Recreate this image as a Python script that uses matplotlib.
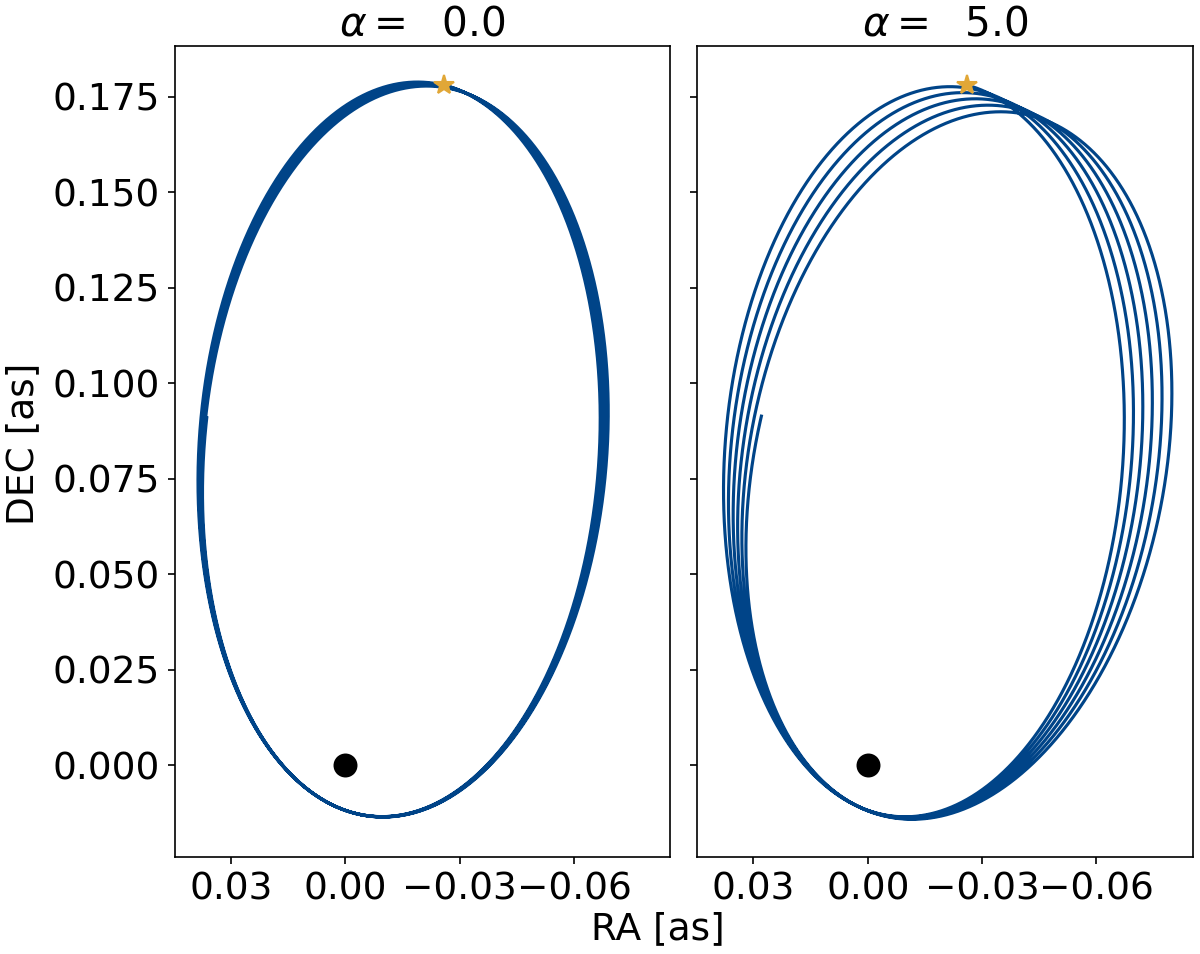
import numpy as np
import matplotlib.pyplot as plt

# ---- data ----
alphas = [0.0, 5.0]                       # panel parameter
precession_per_orbit = [0.0035, 0.020]    # apsidal shift per orbit [rad]
n_orbits = [5.74, 5.74]                   # number of revolutions drawn
ecc = 0.8815                              # eccentricity
P_vec = [0.01588, -0.09394]               # projected periapsis semi-diameter (RA, DEC) [as]
Q_vec = [0.05036, 0.02121]                # conjugate semi-diameter (RA, DEC) [as]
E_start = 3.065                           # eccentric anomaly at the start (star)
bh_pos = [0.0, 0.0]                       # central mass position
x_ticks = [0.03, 0.00, -0.03, -0.06]
x_lim = (0.0448, -0.0852)
y_lim = (-0.0240, 0.1883)

line_color = '#004488'
star_color = '#E1A737'


def orbit(rate, n):
    E = np.linspace(E_start, E_start + 2 * np.pi * n, 30000)
    w = rate * (E - E_start) / (2 * np.pi)
    k = np.sqrt(1 - ecc ** 2)
    P = np.array(P_vec)
    Q = np.array(Q_vec)
    Pw = np.outer(np.cos(w), P) + np.outer(np.sin(w) / k, Q)
    Qw = np.outer(-np.sin(w) * k, P) + np.outer(np.cos(w), Q)
    r = Pw * (np.cos(E) - ecc)[:, None] + Qw * np.sin(E)[:, None]
    return r[:, 0], r[:, 1]


fig = plt.figure(figsize=(8, 6.36), dpi=150)
W, H = 1200, 954
axes = [
    fig.add_axes([174.5 / W, 1 - 856.7 / H, 495.5 / W, 810.7 / H]),
    fig.add_axes([697 / W, 1 - 856.7 / H, 495.5 / W, 810.7 / H]),
]

for i, ax in enumerate(axes):
    ra, dec = orbit(precession_per_orbit[i], n_orbits[i])
    ax.plot(ra, dec, color=line_color, lw=1.5, zorder=2)
    ax.plot(bh_pos[0], bh_pos[1], 'o', color='k', ms=10.5, zorder=3)
    ax.plot(ra[0], dec[0], '*', color=star_color, ms=10, zorder=4)
    ax.set_xlim(*x_lim)
    ax.set_ylim(*y_lim)
    ax.set_xticks(x_ticks)
    ax.set_yticks(np.arange(0, 0.176, 0.025))
    ax.tick_params(labelsize=18)
    ax.set_title(r'$\alpha =$  ' + '{:.1f}'.format(alphas[i]), fontsize=19.5, pad=5)
    if i == 1:
        ax.set_yticklabels([])

fig.text(0.548, 0.026, 'RA [as]', ha='center', va='center', fontsize=18)
fig.text(0.019, 0.535, 'DEC [as]', ha='center', va='center', rotation=90, fontsize=18)

fig.savefig('out.png', dpi=150)
